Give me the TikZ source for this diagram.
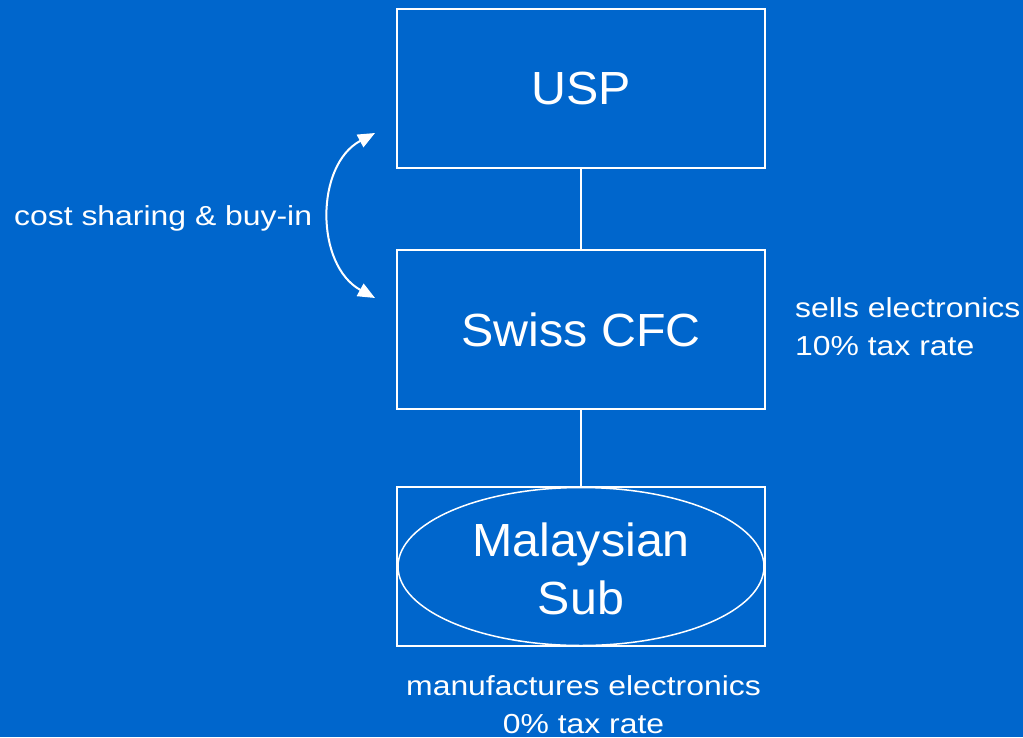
\documentclass[tikz,border=0pt]{standalone}
\usepackage{fontspec}
\setmainfont{Liberation Sans}
\newfontfamily\bigfont[FakeStretch=1.04]{Liberation Sans}
\newfontfamily\notefont[FakeStretch=1.16]{Liberation Sans}
\usetikzlibrary{arrows.meta,shapes.geometric}
\definecolor{slideblue}{RGB}{0,102,204}
\tikzset{
  entity/.style={draw=white, line width=2pt, minimum width=368pt, minimum height=159pt,
    inner sep=0pt, text=white, font=\bigfont\fontsize{46.5}{58}\selectfont, align=center},
  link/.style={draw=white, line width=1.5pt},
  note/.style={text=white, font=\notefont\fontsize{27.5}{38}\selectfont, inner sep=0pt},
}
\begin{document}
\begin{tikzpicture}[x=1pt,y=-1pt]
  \fill[slideblue] (0,0) rectangle (1023,737);
  \useasboundingbox (0,0) rectangle (1023,737);

  % entities
  \node[entity] (usp) at (581,88.5) {USP};
  \node[entity] (swiss) at (581,329.5) {Swiss CFC};
  \node[entity] (malbox) at (581,566.5) {};
  \node[draw=white, line width=1.5pt, ellipse, minimum width=366pt, minimum height=158pt,
        inner sep=0pt] (malell) at (malbox.center) {};
  \node[text=white, font=\bigfont\fontsize{46.5}{58}\selectfont, align=center] (mal)
        at (581,569) {Malaysian\\Sub};

  % ownership links
  \draw[link] (usp.south) -- (swiss.north);
  \draw[link] (swiss.south) -- (malbox.north);

  % cost sharing arrow
  \coordinate (buyTop) at (375,133);
  \coordinate (buyBot) at (375,298);
  \draw[white, line width=2pt, {Triangle[length=17pt,width=14pt]}-{Triangle[length=17pt,width=14pt]}]
    (buyTop) .. controls (315,165) and (315,265) .. (buyBot);

  % notes
  \node[note, anchor=west] (costlbl) at (14,218) {cost sharing \& buy-in};
  \node[note, anchor=north west, align=left] (swisslbl) at (795,297)
        {sells electronics\\10\% tax rate};
  \node[note, align=center, anchor=north] (mallbl) at (583.5,675)
        {manufactures electronics\\0\% tax rate};
\end{tikzpicture}
\end{document}
